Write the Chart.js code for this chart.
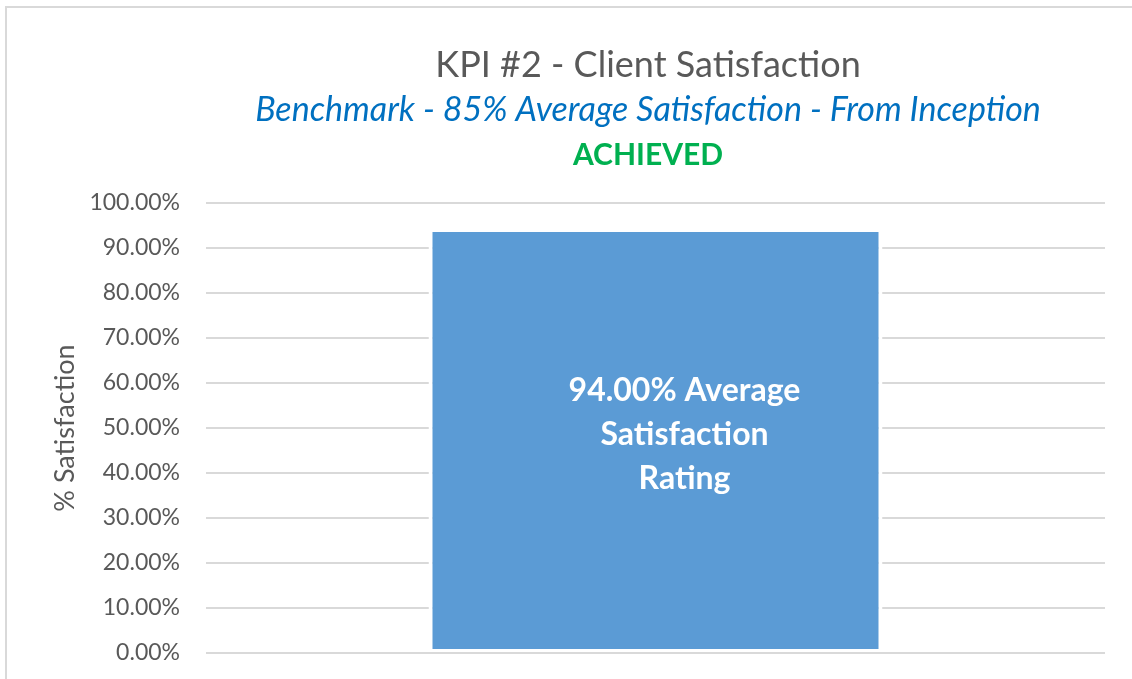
<!DOCTYPE html>
<html>
<head>
<meta charset="utf-8">
<script src="https://cdn.jsdelivr.net/npm/chart.js@4"></script>
<style>
  html, body { margin: 0; padding: 0; background: #fff; overflow: hidden; }
  #wrap { position: relative; width: 1132px; height: 679px; }
  #frame { position: absolute; left: 5px; top: 6px; width: 1200px; height: 700px;
           border: 2px solid #d9d9d9; pointer-events: none; }
  canvas { position: absolute; left: 0; top: 0; }
</style>
</head>
<body>
<div id="wrap">
  <div id="frame"></div>
  <canvas id="kpiChart" width="1132" height="679"></canvas>
</div>
<script>
// data
var categories = ['Average Satisfaction'];
var satisfaction = [94];
var yTicks = [0, 10, 20, 30, 40, 50, 60, 70, 80, 90, 100];
var titleLines = ['KPI #2 - Client Satisfaction',
                  'Benchmark - 85% Average Satisfaction - From Inception',
                  'ACHIEVED'];
var barLabel = ['94.00% Average', 'Satisfaction', 'Rating'];

var fontName = 'Lato, "Open Sans", sans-serif';

// titles drawn by hand so each line gets its own colour
var titlePlugin = {
  id: 'kpiTitles',
  afterDraw: function(chart) {
    var ctx = chart.ctx;
    ctx.save();
    ctx.textAlign = 'center';
    ctx.textBaseline = 'middle';
    ctx.fillStyle = '#595959';
    ctx.font = '36px ' + fontName;
    ctx.fillText(titleLines[0], 648, 65);
    ctx.fillStyle = '#0070C0';
    ctx.font = 'italic 34px ' + fontName;
    ctx.fillText(titleLines[1], 648, 110);
    ctx.fillStyle = '#00B050';
    ctx.font = 'bold 30px ' + fontName;
    ctx.fillText(titleLines[2], 648, 155);
    ctx.restore();
  }
};

// text inside the bar
var barTextPlugin = {
  id: 'barText',
  afterDatasetsDraw: function(chart) {
    var bar = chart.getDatasetMeta(0).data[0];
    if (!bar) return;
    var ctx = chart.ctx;
    var cx = bar.x + 29;
    var cy = (bar.y + bar.base) / 2 - 6;
    ctx.save();
    ctx.fillStyle = '#ffffff';
    ctx.font = 'bold 32px ' + fontName;
    ctx.textAlign = 'center';
    ctx.textBaseline = 'middle';
    for (var i = 0; i < barLabel.length; i++) {
      ctx.fillText(barLabel[i], cx, cy + (i - 1) * 44);
    }
    ctx.restore();
  }
};

var ctx = document.getElementById('kpiChart').getContext('2d');
new Chart(ctx, {
  type: 'bar',
  data: {
    labels: categories,
    datasets: [{
      data: satisfaction,
      backgroundColor: '#5B9BD5',
      borderColor: '#ffffff',
      borderWidth: { top: 2, left: 4, right: 4, bottom: 3 },
      borderSkipped: false,
      categoryPercentage: 1,
      barPercentage: 0.505
    }]
  },
  options: {
    responsive: false,
    animation: false,
    layout: { padding: { top: 203, right: 27, bottom: 26, left: 6 } },
    plugins: {
      legend: { display: false },
      title: { display: false },
      tooltip: { enabled: false }
    },
    scales: {
      x: { display: false },
      y: {
        min: 0,
        max: 100,
        afterFit: function(scale) {
          scale.width = 200;
          // the layout padding already leaves room for the end labels
          scale.paddingTop = 0;
          scale.paddingBottom = 0;
        },
        afterBuildTicks: function(scale) {
          scale.ticks = yTicks.map(function(v) { return { value: v }; });
        },
        border: { display: false },
        grid: { color: '#d9d9d9', lineWidth: 2, drawTicks: false },
        ticks: {
          padding: 26,
          color: '#595959',
          font: { family: fontName, size: 23 },
          callback: function(v) { return v.toFixed(2) + '%'; }
        },
        title: {
          display: true,
          text: '% Satisfaction',
          color: '#595959',
          font: { family: fontName, size: 27 },
          padding: { top: 43, bottom: 0 }
        }
      }
    }
  },
  plugins: [titlePlugin, barTextPlugin]
});
</script>
</body>
</html>
